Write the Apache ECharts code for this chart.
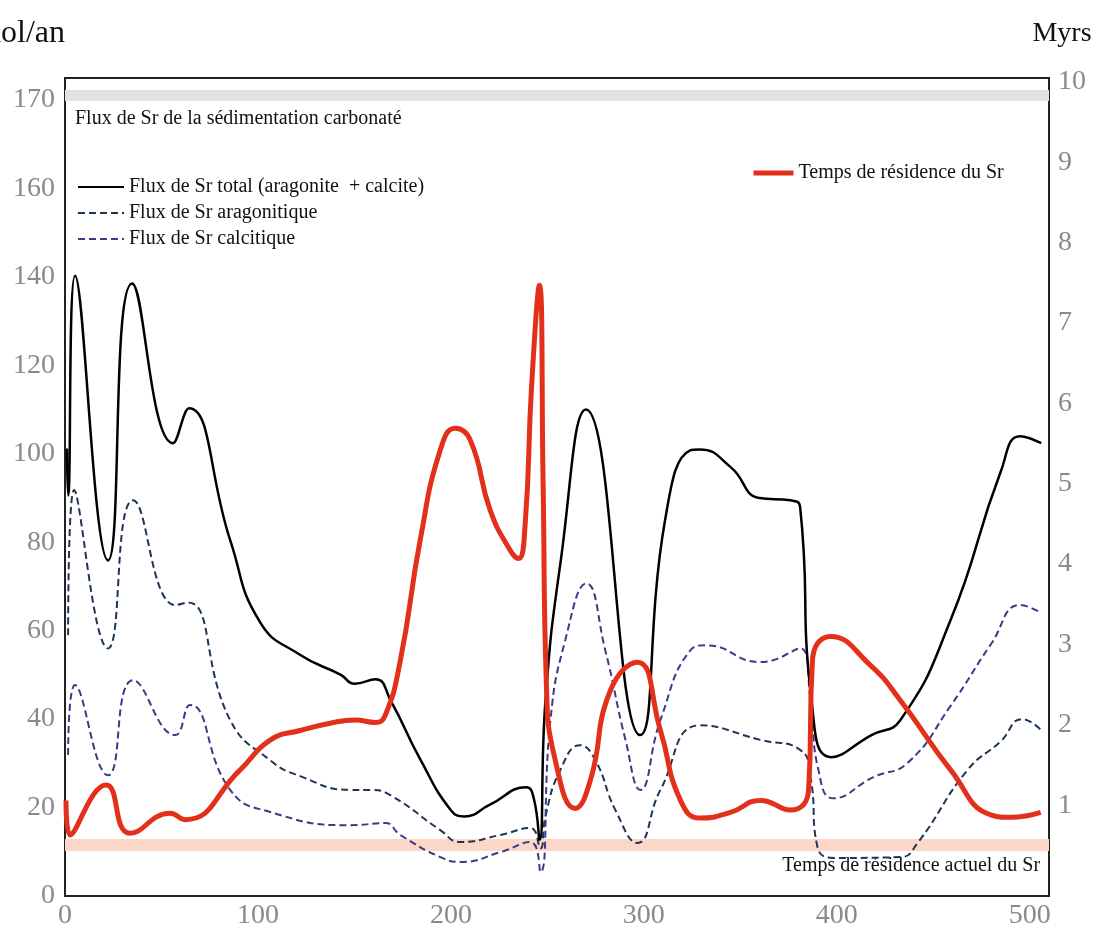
<!DOCTYPE html>
<html>
<head>
<meta charset="utf-8">
<script src="https://cdn.jsdelivr.net/npm/echarts@6/dist/echarts.min.js"></script>
<style>
html,body{margin:0;padding:0;background:#fff;}
#chart{width:1107px;height:931px;}
</style>
</head>
<body>
<div id="chart"></div>
<script>
// ---- data ----
const xTicks = [0, 100, 200, 300, 400, 500];
const leftTicks = [0, 20, 40, 60, 80, 100, 120, 140, 160, 180];
const leftTickText = ['0', '20', '40', '60', '80', '100', '120', '140', '160', '170'];
const rightTicks = [1, 2, 3, 4, 5, 6, 7, 8, 9, 10];

const totalFlux = [
  [1.0,101.2],[1.6,90.6],[5.2,140.3],[22.3,75.9],[34.8,138.5],[56.0,102.4],[64.3,110.3],
  [85.6,80.5],[101,62],[122,54.5],[143,50],[150,48],[161,49],[169,44],[184,31],[200,19.4],
  [207,18],[220,20.6],[239,24.6],[243,22],[246,12.7],[249,44],[257,76],[270,110],[298,36.4],
  [311,85],[324,100.8],[329,101],[345,97],[360,90],[376,89.5],[381,88],[387,44],[397,31.4],
  [418,36.4],[433,39.8],[459,62.4],[485,96],[495,104],[506,102.4]
];
const fluxAragonite = [
  [1.6,59.0],[4.7,91.8],[22.3,56.0],[35.3,89.5],[57.1,65.8],[63.8,66.4],[85.6,39.8],[106.3,30.7],
  [121.9,27.1],[147.8,24.0],[158.2,24.0],[168.6,22.8],[194.5,14.9],[204.9,12.2],[225.6,13.8],
  [241.2,15.4],[246.4,10.8],[249,18],[256.7,28.5],[267,34.1],[274.9,30.7],[285.3,19.4],
  [296.7,12.0],[308.6,24.0],[329.4,38.6],[360.5,35.3],[381.2,33.0],[386.4,26.9],[390,11.1],
  [398.3,8.6],[433.1,8.8],[441.9,12.0],[467.8,28.5],[485,35],[496,40],[506,37.5]
];
const fluxCalcite = [
  [1.6,31.9],[5.2,47.7],[22.3,27.3],[35.3,48.8],[57.1,36.4],[64.8,43.2],[85.6,24.0],[106.3,19.0],
  [147.8,16.0],[166,16.5],[173.8,13.8],[194.5,8.8],[204.9,7.7],[225.6,9.9],[241.2,12.2],
  [246.4,5.4],[251.6,39.8],[259.3,57.9],[270.2,70.7],[280,55.6],[290.5,35.3],[298.2,24.0],
  [308.6,39.8],[324.2,55.6],[332,56.7],[360.5,52.9],[381.2,56.0],[386.4,44.3],[390.5,28.5],
  [398.3,22.1],[419,26.9],[436.7,30.1],[459,43],[480,57],[495,65.8],[506,64]
];
const residenceTime = [
  [0.5,1.06],[2.6,0.63],[21.3,1.25],[33.7,0.65],[54.5,0.9],[62.2,0.82],[90.8,1.44],[106.3,1.81],
  [121.9,1.93],[137.4,2.02],[150.4,2.06],[160.8,2.03],[166,2.12],[173.8,2.8],[184.1,4.3],
  [194.5,5.42],[202.3,5.69],[210.1,5.54],[220.4,4.67],[230.8,4.17],[235,4.07],[238.5,4.5],
  [241.8,6.2],[245.9,7.47],[247.8,5.0],[249.5,2.5],[254.1,1.56],[264.5,0.96],[272.3,1.31],
  [282.7,2.43],[296.7,2.78],[308.6,1.93],[319,1.06],[329.4,0.84],[344.9,0.91],[360.5,1.06],
  [376,0.94],[385.4,1.19],[387.4,2.8],[396.8,3.1],[417.5,2.74],[433.1,2.3],[459,1.44],
  [479.8,0.88],[490.1,0.85],[505.7,0.91]
];
const sedimentationBand = [179.8, 182.3];   // left axis
const presentResidenceBand = [0.43, 0.58];  // right axis

const seriesNames = {
  total: 'Flux de Sr total (aragonite  + calcite)',
  arag: 'Flux de Sr aragonitique',
  calc: 'Flux de Sr calcitique',
  res: 'Temps de résidence du Sr'
};
const bandLabels = {
  sed: 'Flux de Sr de la sédimentation carbonaté',
  present: 'Temps de résidence actuel du Sr'
};

// ---- chart ----
const FONT = 'Liberation Serif';
const chart = echarts.init(document.getElementById('chart'), null, {renderer: 'canvas'});
const tickLabel = {color: '#8a8a8a', fontFamily: FONT, fontSize: 28};

chart.setOption({
  backgroundColor: '#ffffff',
  animation: false,
  grid: {left: 65, right: 58, top: 78, bottom: 35, outerBoundsMode: 'none', containLabel: false,
         show: true, borderColor: '#222', borderWidth: 2, backgroundColor: 'transparent'},
  legend: [
    {
      data: [seriesNames.total, seriesNames.arag, seriesNames.calc],
      orient: 'vertical', left: 72, top: 172, itemWidth: 46, itemHeight: 14, itemGap: 6,
      itemStyle: {opacity: 0},
      textStyle: {fontFamily: FONT, fontSize: 20, color: '#111'}
    },
    {
      data: [seriesNames.res],
      orient: 'vertical', left: 746, top: 158, itemWidth: 40, itemHeight: 14,
      itemStyle: {opacity: 0}, lineStyle: {width: 5},
      textStyle: {fontFamily: FONT, fontSize: 20, color: '#111'}
    }
  ],
  xAxis: {
    type: 'value', min: 0, max: 510,
    axisLine: {show: false}, axisTick: {show: false}, splitLine: {show: false},
    axisLabel: Object.assign({customValues: xTicks, margin: 6}, tickLabel)
  },
  yAxis: [
    {
      type: 'value', min: 0, max: 185, position: 'left',
      name: 'mol/an', nameLocation: 'end', nameGap: 28,
      nameTextStyle: {fontFamily: FONT, fontSize: 32, color: '#111', align: 'right'},
      axisLine: {show: false}, axisTick: {show: false}, splitLine: {show: false},
      axisLabel: Object.assign({
        customValues: leftTicks, margin: 10,
        formatter: v => leftTickText[leftTicks.indexOf(v)] ?? String(v)
      }, tickLabel)
    },
    {
      type: 'value', min: -0.13, max: 10.05, position: 'right',
      name: 'Myrs', nameLocation: 'end', nameGap: 30,
      nameTextStyle: {fontFamily: FONT, fontSize: 28, color: '#111', align: 'center', padding: [0, 0, 0, 26]},
      axisLine: {show: false}, axisTick: {show: false}, splitLine: {show: false},
      axisLabel: Object.assign({customValues: rightTicks, margin: 9}, tickLabel)
    }
  ],
  series: [
    {
      name: seriesNames.total, type: 'line', yAxisIndex: 0, data: totalFlux,
      smooth: 0.5, showSymbol: false, symbol: 'none', z: 3,
      lineStyle: {color: '#000', width: 2.5}, itemStyle: {color: '#000'},
      markArea: {
        silent: true,
        itemStyle: {color: '#e2e2e2'},
        label: {show: true, position: [10, 29], align: 'left', verticalAlign: 'middle',
                fontFamily: FONT, fontSize: 20, color: '#111'},
        data: [[{yAxis: sedimentationBand[0], name: bandLabels.sed}, {yAxis: sedimentationBand[1]}]]
      }
    },
    {
      name: seriesNames.arag, type: 'line', yAxisIndex: 0, data: fluxAragonite,
      smooth: 0.5, showSymbol: false, symbol: 'none', z: 2,
      lineStyle: {color: '#1e3556', width: 2, type: [7, 4]}, itemStyle: {color: '#1e3556'}
    },
    {
      name: seriesNames.calc, type: 'line', yAxisIndex: 0, data: fluxCalcite,
      smooth: 0.5, showSymbol: false, symbol: 'none', z: 2,
      lineStyle: {color: '#3a3a8c', width: 2, type: [7, 4]}, itemStyle: {color: '#3a3a8c'}
    },
    {
      name: seriesNames.res, type: 'line', yAxisIndex: 1, data: residenceTime,
      smooth: 0.5, showSymbol: false, symbol: 'none', z: 4,
      lineStyle: {color: '#e3301a', width: 5}, itemStyle: {color: '#e3301a'},
      markArea: {
        silent: true,
        itemStyle: {color: '#fcd6c6'},
        label: {show: true, position: ['99.1%', 27], align: 'right', verticalAlign: 'middle',
                fontFamily: FONT, fontSize: 20, color: '#111'},
        data: [[{yAxis: presentResidenceBand[0], name: bandLabels.present}, {yAxis: presentResidenceBand[1]}]]
      }
    }
  ]
});
</script>
</body>
</html>
